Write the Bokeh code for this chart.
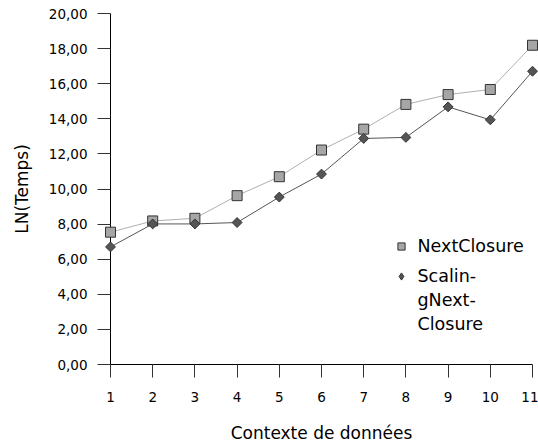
from bokeh.plotting import figure
from bokeh.models import Range1d, Legend, LegendItem, FixedTicker, ColumnDataSource
from bokeh.embed import file_html
from bokeh.resources import INLINE
import math

contexts = [1, 2, 3, 4, 5, 6, 7, 8, 9, 10, 11]
next_closure = [7.54, 8.18, 8.33, 9.62, 10.70, 12.22, 13.41, 14.82, 15.38, 15.67, 18.19]
scaling_next_closure = [6.70, 8.01, 8.01, 8.09, 9.54, 10.85, 12.88, 12.94, 14.68, 13.94, 16.71]
y_ticks = [0, 2, 4, 6, 8, 10, 12, 14, 16, 18, 20]
y_tick_labels = ["0,00", "2,00", "4,00", "6,00", "8,00", "10,00", "12,00", "14,00", "16,00", "18,00", "20,00"]
series_a_name = "NextClosure"
series_b_name_lines = ["Scalin-", "gNext-", "Closure"]
x_title = "Contexte de données"
y_title = "LN(Temps)"

FONT = "DejaVu Sans"

p = figure(width=538, height=446, output_backend="svg", toolbar_location=None,
           x_range=Range1d(1, 11), y_range=Range1d(0, 20),
           min_border_left=110, min_border_right=6, min_border_top=13, min_border_bottom=82)
p.outline_line_color = None
p.xgrid.visible = False
p.ygrid.visible = False
p.background_fill_color = "white"

src = ColumnDataSource(dict(x=contexts, a=next_closure, b=scaling_next_closure))

p.line("x", "a", source=src, line_color="#b0b0b0", line_width=1, level="overlay")
p.line("x", "b", source=src, line_color="#555555", line_width=1, level="overlay")
sq = p.scatter("x", "a", source=src, marker="square", size=10, fill_color="#a6a6a6",
               line_color="#333333", line_width=1, level="overlay")
p.scatter("x", "b", source=src, marker="square", size=7, angle=math.pi / 4,
          fill_color="#555555", line_color="#333333", line_width=1, level="overlay")
# hidden renderer used only as the diamond key of the legend
dm_key = p.scatter("x", "b", source=src, marker="diamond", size=11, fill_color="#555555",
                   line_color="#333333", line_width=1, visible=False)

for ax in (p.xaxis[0], p.yaxis[0]):
    ax.axis_line_color = "black"
    ax.major_tick_line_color = "#333333"
    ax.major_tick_in = 0
    ax.major_tick_out = 13
    ax.minor_tick_line_color = None
    ax.major_label_text_font = FONT
    ax.major_label_text_font_size = "13.5px"
    ax.major_label_text_color = "black"
    ax.axis_label_text_font = FONT
    ax.axis_label_text_font_size = "17px"
    ax.axis_label_text_font_style = "normal"
    ax.axis_label_text_color = "black"
    ax.major_label_standoff = 10

p.xaxis.ticker = FixedTicker(ticks=contexts)
p.xaxis.axis_label = x_title
p.xaxis.major_label_standoff = 14
p.xaxis.axis_label_standoff = 18
p.yaxis.ticker = FixedTicker(ticks=y_ticks)
p.yaxis.major_label_overrides = {t: l for t, l in zip(y_ticks, y_tick_labels)}
p.yaxis.axis_label = y_title
p.yaxis.axis_label_standoff = 14

legend_style = dict(border_line_color=None, background_fill_alpha=0, padding=0, margin=0,
                    spacing=0, glyph_width=18, glyph_height=18, label_height=24,
                    label_standoff=8, label_text_font=FONT, label_text_font_size="17.5px",
                    label_text_color="black", inactive_fill_alpha=0)

legend_a = Legend(items=[LegendItem(label=series_a_name, renderers=[sq])],
                  location=(281.5, 106.5), **legend_style)
legend_b = Legend(items=[LegendItem(label=series_b_name_lines[0], renderers=[dm_key]),
                         LegendItem(label=series_b_name_lines[1], renderers=[]),
                         LegendItem(label=series_b_name_lines[2], renderers=[])],
                  location=(281.5, 28), **legend_style)
p.add_layout(legend_a)
p.add_layout(legend_b)

open("out.html", "w").write(file_html(p, INLINE))
